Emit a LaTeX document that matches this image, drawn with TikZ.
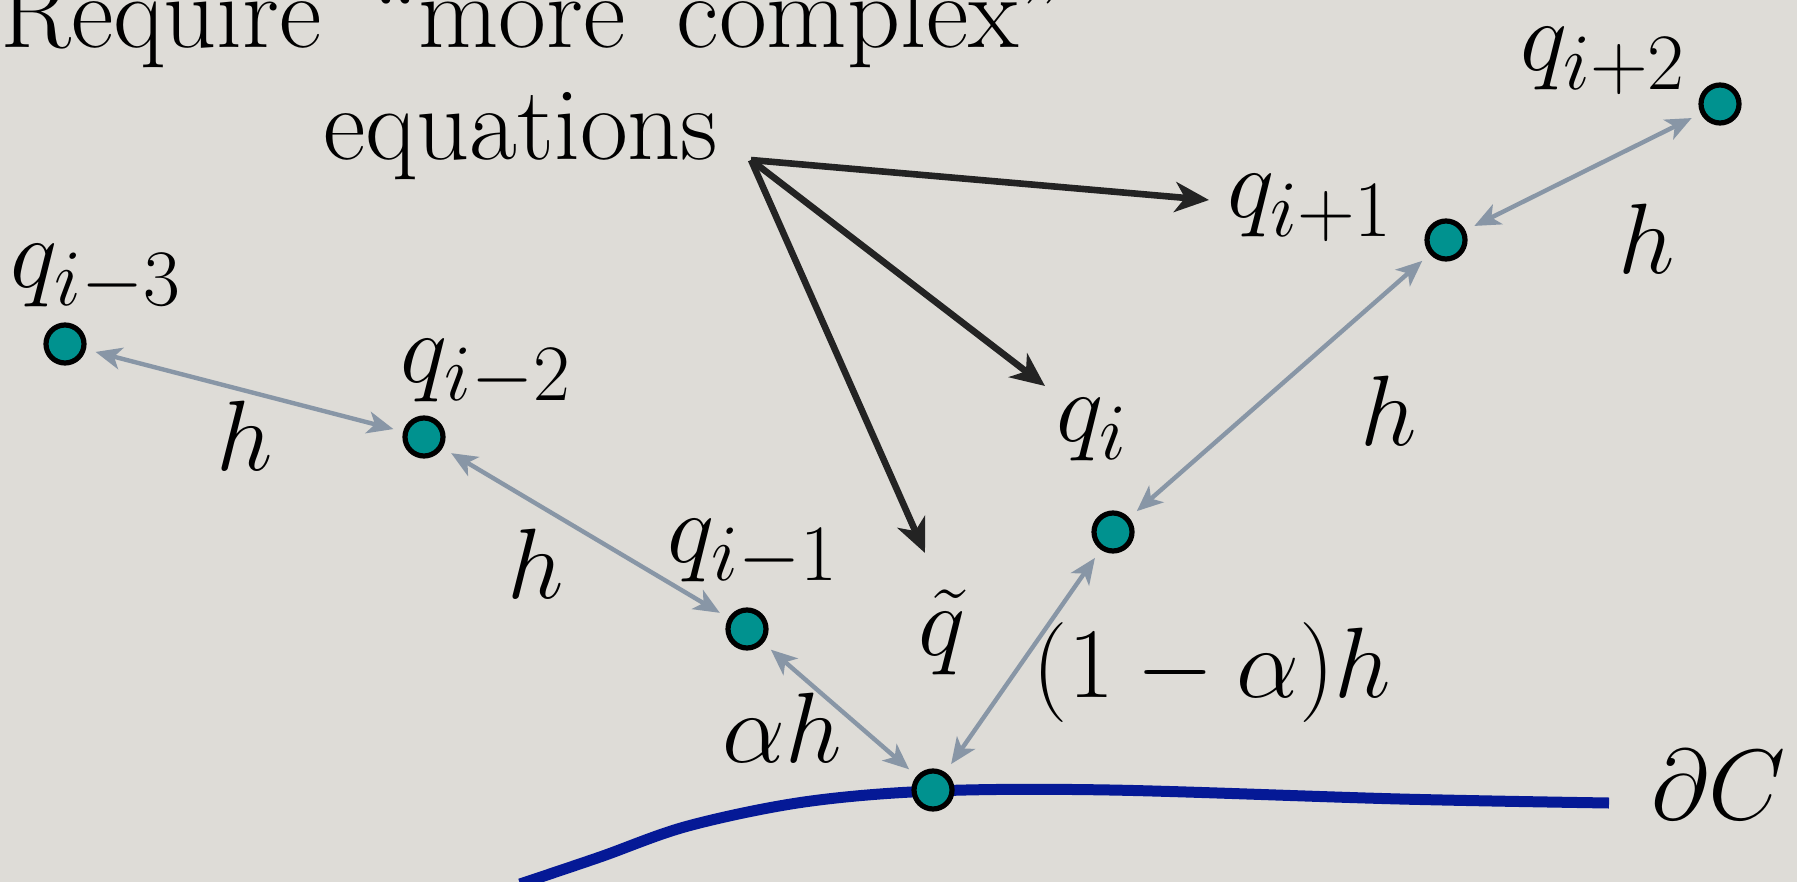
\RequirePackage{fix-cm}
\documentclass[tikz,border=0pt]{standalone}
\usetikzlibrary{arrows.meta}
\DeclareMathSizes{50}{50}{40}{30}
\definecolor{paper}{RGB}{222,220,215}
\definecolor{tealdot}{RGB}{0,146,143}
\definecolor{slate}{RGB}{136,150,166}
\definecolor{curveblue}{RGB}{5,25,150}
\definecolor{arrowblack}{RGB}{35,35,35}
\tikzset{
  txt/.style={anchor=base, inner sep=0pt, font=\fontsize{52}{62}\selectfont},
  lbl/.style={anchor=base, inner sep=0pt, font=\fontsize{50}{60}\selectfont},
  ptdot/.style={circle, draw=black, line width=2.6pt, fill=tealdot, minimum size=19pt, inner sep=0pt},
  gaparrow/.style={draw=slate, line width=2.2pt,
    {Stealth[length=13pt,width=11pt,inset=3.5pt]}-{Stealth[length=13pt,width=11pt,inset=3.5pt]},
    shorten <=5pt, shorten >=5pt},
  pointer/.style={draw=arrowblack, line width=3.3pt, -{Stealth[length=17pt,width=15pt,inset=5pt]}},
  boundary/.style={draw=curveblue, line width=5.5pt}
}
\begin{document}
\begin{tikzpicture}[x=0.5pt,y=-0.5pt]
\useasboundingbox (0,0) rectangle (1797,882);
\fill[paper] (0,0) rectangle (1797,882);

% boundary curve
\draw[boundary] plot[smooth, tension=0.55] coordinates {(520,884) (600,857) (688,826) (804,802) (933,791) (1110,790) (1400,799) (1609,803)};

% points
\node[ptdot] (qm3) at (65,344) {};
\node[ptdot] (qm2) at (424,437) {};
\node[ptdot] (qm1) at (747,629) {};
\node[ptdot] (qb)  at (933,790) {};
\node[ptdot] (qi)  at (1113,532) {};
\node[ptdot] (qp1) at (1446,240) {};
\node[ptdot] (qp2) at (1720,104) {};

% spacing arrows
\draw[gaparrow] (qm3) -- (qm2);
\draw[gaparrow] (qm2) -- (qm1);
\draw[gaparrow] (qm1) -- (qb);
\draw[gaparrow] (qb) -- (qi);
\draw[gaparrow] (qi) -- (qp1);
\draw[gaparrow] (qp1) -- (qp2);

% texts
\node[txt, anchor=base west] (req) at (0,48) {Require\hspace{10pt} “more\hspace{10pt} complex”};
\node[txt] (eqs) at (521,160) {equations};
\coordinate (eqpt) at (751,160);

\node[lbl] (lqm3) at (96,287) {$q_{i-3}$};
\node[lbl] (lqm2) at (486,382) {$q_{i-2}$};
\node[lbl] (lqm1) at (753,562) {$q_{i-1}$};
\node[lbl] (lqi)  at (1092,441) {$q_{i}$};
\node[lbl] (lqp1) at (1310,218) {$q_{i+1}$};
\node[lbl] (lqp2) at (1603,71) {$q_{i+2}$};
\node[lbl] (lqt)  at (942,655) {$\tilde q$};

\node[lbl] (h1) at (245,470) {$h$};
\node[lbl] (h2) at (536,598) {$h$};
\node[lbl] (h3) at (1389,445) {$h$};
\node[lbl] (h4) at (1647,273) {$h$};
\node[lbl] (ah) at (782,762) {$\alpha h$};
\node[lbl] (bh) at (1212,697) {$(1-\alpha)h$};
\node[lbl] (dC) at (1719,819) {$\partial C$};

% pointer arrows
\coordinate (tp1) at (1209,200);
\coordinate (tpi) at (1045,386);
\coordinate (tpt) at (925,553);
\draw[pointer] (eqpt) -- (tp1);
\draw[pointer] (eqpt) -- (tpi);
\draw[pointer] (eqpt) -- (tpt);
\end{tikzpicture}
\end{document}
